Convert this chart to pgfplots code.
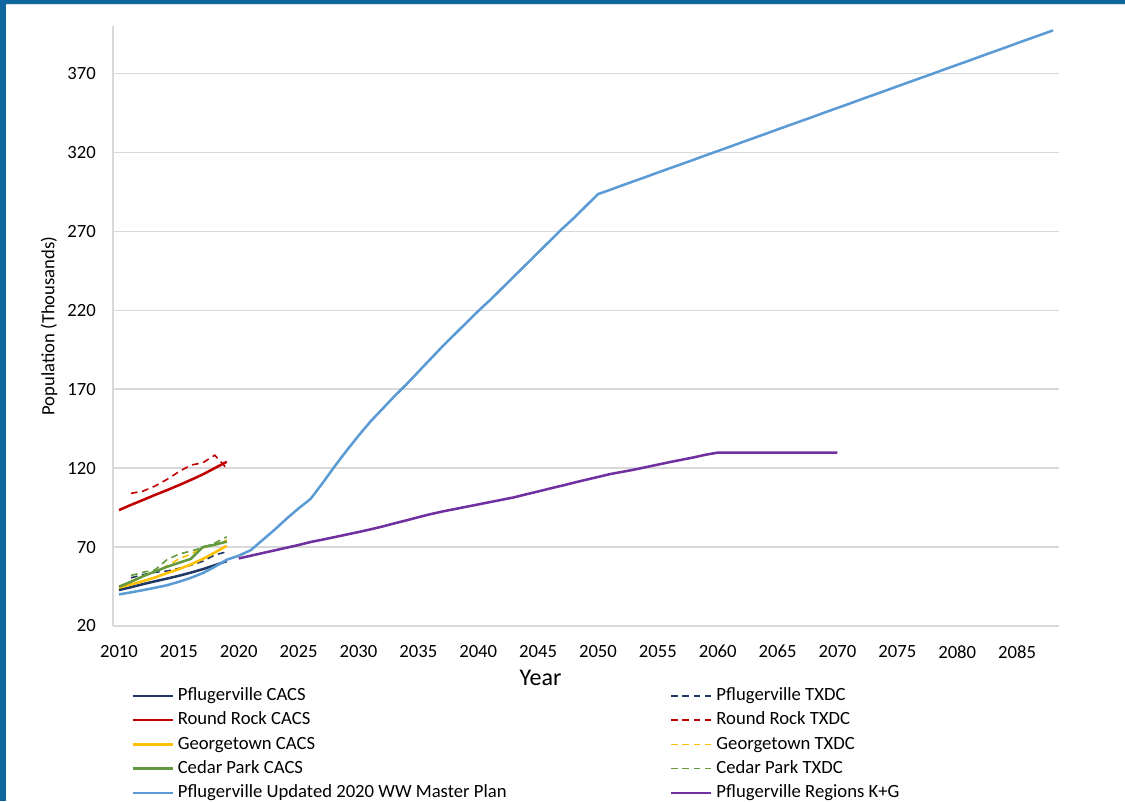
\documentclass[border=0pt]{standalone}
\usepackage{pgfplots}
\pgfplotsset{compat=1.18}
\usepackage{fontspec}
\setmainfont{Carlito}

\definecolor{pfnavy}{HTML}{1F3864}
\definecolor{rrred}{HTML}{C00000}
\definecolor{gtyellow}{HTML}{FFC000}
\definecolor{cpgreen}{HTML}{62993E}
\definecolor{wwblue}{HTML}{5B9BD5}
\definecolor{kgpurple}{HTML}{7030A0}
\definecolor{gridgray}{HTML}{D9D9D9}
\definecolor{framebl}{HTML}{10669F}

\pgfplotsset{
  cacs/.style={solid, line width=1.9pt},
  txdc/.style={line width=1.2pt, dash pattern=on 5pt off 3.5pt},
}

\begin{document}
\begin{tikzpicture}[x=1pt,y=1pt]
\useasboundingbox (0,0) rectangle (843.75,600.75);
% slide frame
\fill[framebl] (0,0) rectangle (4.5,600.75);
\fill[framebl] (0,597.75) rectangle (843.75,600.75);
\fill[gray!25] (4.5,597) rectangle (843.75,597.75);

\begin{axis}[
  at={(84.75pt,131.25pt)}, anchor=south west,
  scale only axis, width=709.5pt, height=450pt,
  xmin=2009.5, xmax=2088.5, ymin=20, ymax=400,
  xtick={2010,2015,...,2085}, ytick={20,70,...,370},
  axis x line=bottom, axis y line=left,
  axis line style={draw=gridgray, line width=1pt, -},
  major tick length=0pt,
  ymajorgrids, grid style={gridgray, line width=1pt},
  /pgf/number format/assume math mode=true,
  xticklabel style={/pgf/number format/1000 sep=, yshift=-11pt},
  yticklabel style={xshift=-9.4pt},
  tick label style={font=\fontsize{14}{16}\selectfont, text=black},
  xlabel={Year},
  xlabel style={font=\fontsize{18}{20}\selectfont, at={(axis description cs:0.452,-0.086)}, anchor=center},
  ylabel={Population (Thousands)},
  ylabel style={font=\fontsize{14}{16}\selectfont, at={(axis description cs:-0.0677,0.5)}, anchor=center, rotate=0},
  legend columns=2,
  legend cell align=left,
  legend image code/.code={\draw[#1] (0pt,0pt) -- (30pt,0pt);},
  legend style={at={(axis description cs:0.019,-0.1016)}, anchor=north west,
    draw=none, fill=none, inner sep=0pt, row sep=5.2pt,
    font=\fontsize{14}{16}\selectfont,
    nodes={inner xsep=3pt, inner ysep=0pt, text height=10pt, text depth=3pt},
    /tikz/every even column/.append style={column sep=119.5pt}},
]

% Pflugerville CACS
\addplot[pfnavy, cacs] coordinates {
  (2010,42.8) (2011,44.6) (2012,46.5) (2013,48.3) (2014,50.0)
  (2015,51.8) (2016,53.8) (2017,56.0) (2018,58.5) (2019,61.1)};
\addlegendentry{Pflugerville CACS}
% Pflugerville TXDC
\addplot[pfnavy, txdc] coordinates {
  (2011,50.5) (2012,52.5) (2013,54.0) (2014,54.8) (2015,56.5)
  (2016,58.5) (2017,61.0) (2018,65.0) (2019,67.0)};
\addlegendentry{Pflugerville TXDC}
% Round Rock CACS
\addplot[rrred, cacs] coordinates {
  (2010,93.4) (2011,96.7) (2012,99.8) (2013,103.0) (2014,106.0)
  (2015,109.2) (2016,112.5) (2017,116.0) (2018,120.0) (2019,124.0)};
\addlegendentry{Round Rock CACS}
% Round Rock TXDC
\addplot[rrred, txdc] coordinates {
  (2011,104.0) (2012,105.4) (2013,108.6) (2014,112.8) (2015,117.7)
  (2016,121.9) (2017,123.4) (2018,128.2) (2019,119.8)};
\addlegendentry{Round Rock TXDC}
% Georgetown CACS
\addplot[gtyellow, cacs] coordinates {
  (2010,44.3) (2011,46.3) (2012,48.4) (2013,50.7) (2014,53.5)
  (2015,56.0) (2016,59.0) (2017,62.5) (2018,66.5) (2019,70.8)};
\addlegendentry{Georgetown CACS}
% Georgetown TXDC
\addplot[gtyellow, txdc] coordinates {
  (2011,48.5) (2012,51.5) (2013,54.5) (2014,58.0) (2015,62.5)
  (2016,65.5) (2017,69.5) (2018,71.5) (2019,74.5)};
\addlegendentry{Georgetown TXDC}
% Cedar Park CACS
\addplot[cpgreen, cacs] coordinates {
  (2010,44.9) (2011,48.0) (2012,51.5) (2013,54.5) (2014,57.5)
  (2015,60.0) (2016,62.5) (2017,70.0) (2018,71.5) (2019,73.4)};
\addlegendentry{Cedar Park CACS}
% Cedar Park TXDC
\addplot[cpgreen, txdc] coordinates {
  (2011,52.0) (2012,54.0) (2013,55.5) (2014,62.0) (2015,65.5)
  (2016,67.5) (2017,69.6) (2018,72.5) (2019,76.5)};
\addlegendentry{Cedar Park TXDC}
% Pflugerville Updated 2020 WW Master Plan
\addplot[wwblue, cacs] coordinates {
  (2010,40.0) (2011,41.3) (2012,42.7) (2013,44.2) (2014,45.8)
  (2015,48.0) (2016,50.5) (2017,53.5) (2018,57.5) (2019,62.0)
  (2020,64.5) (2021,68.0) (2022,74.5) (2023,81.0) (2024,88.0)
  (2025,94.5) (2026,100.5) (2027,110.5) (2028,121.0) (2029,131.0)
  (2030,140.5) (2031,149.5) (2032,157.5) (2033,165.5) (2034,173.0)
  (2035,181.0) (2036,189.0) (2037,197.0) (2038,204.5) (2039,212.0)
  (2040,219.5) (2041,226.5) (2042,234.0) (2043,241.5) (2044,249.0)
  (2045,256.5) (2046,264.0) (2047,271.5) (2048,278.5) (2049,286.0)
  (2050,293.5) (2051,296.2) (2052,299.0) (2053,301.7) (2054,304.4)
  (2055,307.2) (2056,309.9) (2057,312.6) (2058,315.3) (2059,318.1)
  (2060,320.8) (2061,323.5) (2062,326.3) (2063,329.0) (2064,331.7)
  (2065,334.5) (2066,337.2) (2067,339.9) (2068,342.6) (2069,345.4)
  (2070,348.1) (2071,350.8) (2072,353.6) (2073,356.3) (2074,359.0)
  (2075,361.8) (2076,364.5) (2077,367.2) (2078,369.9) (2079,372.7)
  (2080,375.4) (2081,378.1) (2082,380.9) (2083,383.6) (2084,386.3)
  (2085,389.1) (2086,391.8) (2087,394.5) (2088,397.2)};
\addlegendentry{Pflugerville Updated 2020 WW Master Plan}
% Pflugerville Regions K+G
\addplot[kgpurple, cacs] coordinates {
  (2020,62.8) (2021,64.5) (2022,66.2) (2023,67.9) (2024,69.6)
  (2025,71.3) (2026,73.2) (2027,74.7) (2028,76.3) (2029,77.9)
  (2030,79.5) (2031,81.2) (2032,83.0) (2033,85.0) (2034,86.9)
  (2035,88.9) (2036,90.8) (2037,92.5) (2038,94.0) (2039,95.5)
  (2040,97.0) (2041,98.5) (2042,100.0) (2043,101.5) (2044,103.4)
  (2045,105.2) (2046,107.1) (2047,108.9) (2048,110.8) (2049,112.6)
  (2050,114.4) (2051,116.2) (2052,117.6) (2053,119.0) (2054,120.6)
  (2055,122.2) (2056,123.8) (2057,125.3) (2058,126.8) (2059,128.5)
  (2060,129.8) (2061,129.8) (2062,129.8) (2063,129.8) (2064,129.8)
  (2065,129.8) (2066,129.8) (2067,129.8) (2068,129.8) (2069,129.8)
  (2070,129.8)};
\addlegendentry{Pflugerville Regions K+G}
\end{axis}
\end{tikzpicture}
\end{document}
